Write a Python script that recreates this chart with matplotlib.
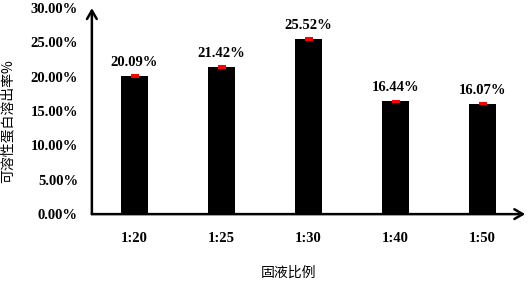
import matplotlib
matplotlib.use('Agg')
import matplotlib.pyplot as plt
from matplotlib.ticker import FuncFormatter

ratios = ['1:20', '1:25', '1:30', '1:40', '1:50']
yield_pct = [20.09, 21.42, 25.52, 16.44, 16.07]
err_pct = [0.12, 0.10, 0.10, 0.10, 0.10]

serif = ['Liberation Serif', 'DejaVu Serif']
cjk = ['Noto Sans CJK SC', 'DejaVu Sans']

fig = plt.figure(figsize=(5.28, 2.81), dpi=100)
ax = fig.add_axes([0.174, 0.238, 0.824, 0.733])

x = range(len(ratios))
ax.bar(x, yield_pct, width=0.31, color='black')
ax.errorbar(x, yield_pct, yerr=err_pct, fmt='none', ecolor='red',
            elinewidth=1.5, capsize=3, capthick=1.5)

for xi, v in zip(x, yield_pct):
    ax.annotate('%.2f%%' % v, (xi, v), xytext=(0, 5), textcoords='offset points',
                ha='center', va='bottom', fontsize=10.5, fontweight='bold',
                family=serif)

ax.set_xlim(-0.49, 4.51)
ax.set_ylim(0, 30)
ax.set_yticks([0, 5, 10, 15, 20, 25, 30])
ax.yaxis.set_major_formatter(FuncFormatter(lambda v, p: '%.2f%%' % v))
ax.set_xticks(list(x))
ax.set_xticklabels(ratios)

for lab in ax.get_xticklabels() + ax.get_yticklabels():
    lab.set_family(serif)
    lab.set_fontweight('bold')
    lab.set_fontsize(10.5)
ax.tick_params(axis='both', length=0)
ax.tick_params(axis='y', pad=10)
ax.tick_params(axis='x', pad=13)

for s in ax.spines.values():
    s.set_visible(False)

# axis lines with open arrow heads
ax.annotate('', xy=(0, 1.0), xytext=(0, 0), xycoords='axes fraction',
            arrowprops=dict(arrowstyle='->,head_length=0.6,head_width=0.35',
                            lw=1.8, color='black', shrinkA=0, shrinkB=0))
ax.annotate('', xy=(0.996, 0), xytext=(0, 0), xycoords='axes fraction',
            arrowprops=dict(arrowstyle='->,head_length=0.6,head_width=0.35',
                            lw=1.8, color='black', shrinkA=0, shrinkB=0))

ax.set_ylabel('可溶性蛋白溶出率%', family=cjk, fontsize=10)
ax.yaxis.set_label_coords(-0.177, 0.451)
ax.set_xlabel('固液比例', family=cjk, fontsize=10)
ax.xaxis.set_label_coords(0.453, -0.25)

fig.savefig('out.png', dpi=100)
